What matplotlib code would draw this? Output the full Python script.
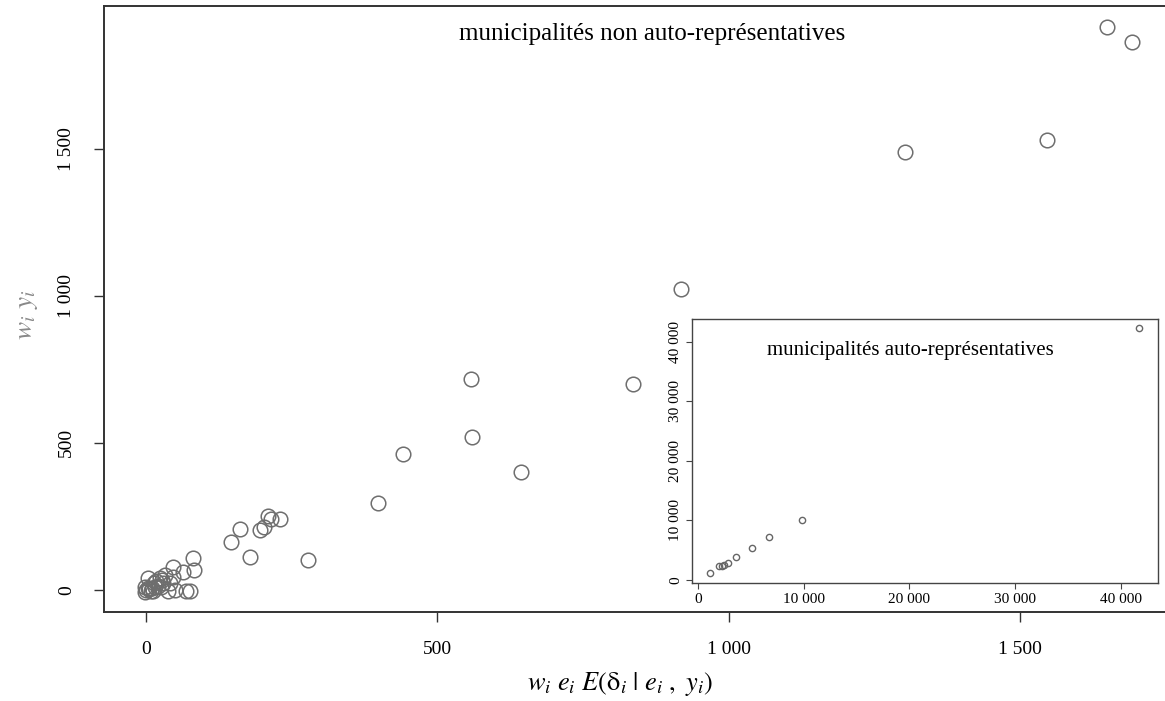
import matplotlib
matplotlib.use("Agg")
import matplotlib.pyplot as plt

plt.rcParams['font.family'] = ['Liberation Serif', 'DejaVu Serif']
plt.rcParams['mathtext.fontset'] = 'stix'

# municipalités non auto-représentatives
main_x = [1648, 1691, 1545, 1302, 917, 557, 836, 560, 441, 644,
          398, 145, 162, 178, 196, 203, 210, 214, 230, 278,
          80, 82, 64, 46, 47, 33, 24, 4, 13, 30, 41, 69, 75, 50, 38,
          -2, -2, 0, 5, 10, 15, 8, 20, 3, 12, 25, 18, 28]
main_y = [1913, 1863, 1530, 1489, 1024, 717, 700, 521, 463, 402,
          295, 163, 206, 112, 204, 213, 252, 241, 240, 101,
          108, 68, 62, 77, 45, 51, 40, 40, 23, 25, 23, -2, -2, 0, -2,
          11, -6, 0, 2, 5, 10, -3, 15, 8, -2, 10, 30, 35]

# municipalités auto-représentatives
ins_x = [1135, 1990, 2240, 2460, 2870, 3600, 5140, 6750, 9810, 41700]
ins_y = [1124, 2300, 2300, 2517, 2800, 3800, 5430, 7270, 10070, 42300]

main_ticks = [0, 500, 1000, 1500]
main_labels = ['0', '500', '1 000', '1 500']
ins_ticks = [0, 10000, 20000, 30000, 40000]
ins_labels = ['0', '10 000', '20 000', '30 000', '40 000']

fig = plt.figure(figsize=(11.65, 7.01), dpi=100)
ax = fig.add_axes([104 / 1165, 89 / 701, 1061 / 1165, 606 / 701])
ax.plot(main_x, main_y, 'o', ms=10.5, mfc='none', mec='#6e6e6e', mew=1.1)
ax.set_xlim(-72, 1748)
ax.set_ylim(-75, 1986)
ax.spines['right'].set_visible(False)
for s in ['left', 'bottom', 'top']:
    ax.spines[s].set_linewidth(1.4)
    ax.spines[s].set_color('#333333')
ax.set_xticks(main_ticks, main_labels)
ax.set_yticks(main_ticks, main_labels, rotation=90, va='center')
ax.tick_params(axis='both', direction='out', length=7, width=1, colors='#333333',
               labelcolor='black', labelsize=14)
ax.tick_params(axis='x', pad=14)
ax.tick_params(axis='y', pad=14)
ax.text(0.517, 0.954, 'municipalités non auto-représentatives', transform=ax.transAxes,
        ha='center', va='center', fontsize=18)
ax.set_xlabel(r'$w_i\ e_i\ E(\mathrm{\delta}_i\ |\ e_i\ ,\ y_i)$', fontsize=19, va='center')
ax.xaxis.set_label_coords(0.486, -0.119)
ax.set_ylabel(r'$w_i\ y_i$', fontsize=19.5, color='#888888', va='center')
ax.yaxis.set_label_coords(-0.072, 0.49)

ins = fig.add_axes([692 / 1165, 118 / 701, 466 / 1165, 264 / 701])
ins.plot(ins_x, ins_y, 'o', ms=4.5, mfc='none', mec='#666666', mew=1)
ins.set_xlim(-570, 43520)
ins.set_ylim(-503, 43800)
for s in ins.spines.values():
    s.set_linewidth(1)
    s.set_color('#444444')
ins.set_xticks(ins_ticks, ins_labels)
ins.set_yticks(ins_ticks, ins_labels, rotation=90, va='center')
ins.tick_params(axis='both', direction='out', length=4, width=0.8, colors='#444444',
                labelcolor='black', labelsize=11, pad=3)
ins.text(0.468, 0.88, 'municipalités auto-représentatives', transform=ins.transAxes,
         ha='center', va='center', fontsize=15)

fig.savefig('out.png', dpi=100)
